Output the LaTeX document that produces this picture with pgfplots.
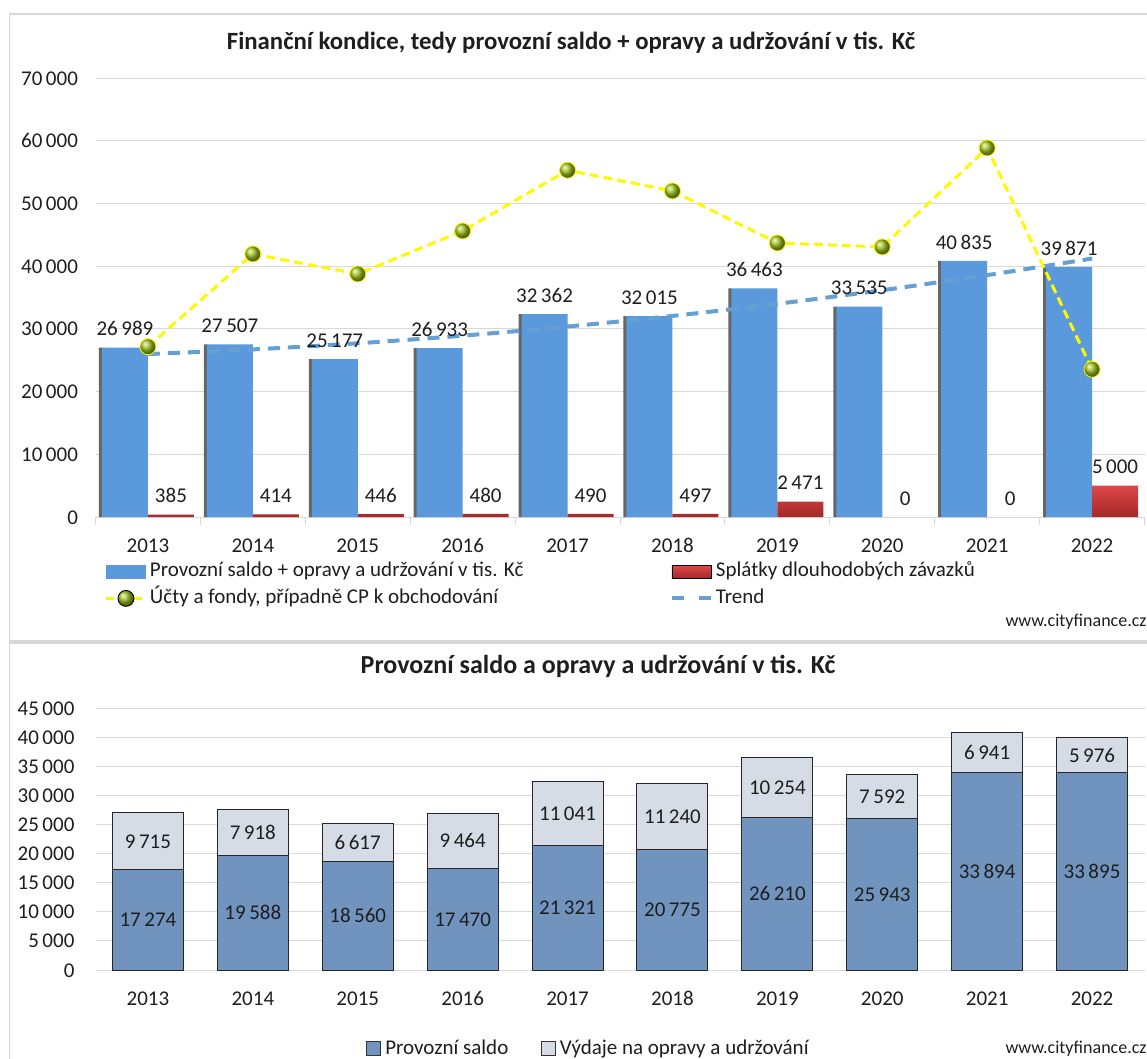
\documentclass[border=0pt]{standalone}
\usepackage{fontspec}
\setmainfont{Carlito}
\usepackage{pgfplots}
\pgfplotsset{compat=1.18}
\definecolor{blueb}{RGB}{91,153,221}
\definecolor{redtop}{RGB}{222,72,72}
\definecolor{redbot}{RGB}{165,40,40}
\definecolor{yell}{RGB}{255,248,0}
\definecolor{ballc}{RGB}{160,195,30}
\definecolor{trendc}{RGB}{100,160,212}
\definecolor{gridc}{RGB}{217,217,217}
\definecolor{framec}{RGB}{217,217,217}
\definecolor{botdark}{RGB}{112,148,190}
\definecolor{botlight}{RGB}{214,220,230}
\definecolor{txt}{RGB}{30,30,30}
\pgfplotsset{
  commonax/.style={
    anchor=south west, scale only axis, width=524.5pt,
    xmin=-0.5, xmax=9.5, xtick={0,...,9},
    xticklabels={2013,2014,2015,2016,2017,2018,2019,2020,2021,2022},
    ymin=0, scaled y ticks=false,
    /pgf/number format/assume math mode=true,
    /pgf/number format/1000 sep={\,},
    ymajorgrids, grid style={gridc, line width=0.5pt},
    axis x line*=bottom, axis y line*=left,
    x axis line style={gridc, line width=0.5pt, -},
    y axis line style={draw=none},
    major tick length=0pt,
    tick label style={font=\fontsize{10.5}{12}\selectfont, text=txt, text height=7pt, text depth=0pt},
    clip=false,
  },
  lab/.style={every node near coord/.append style={font=\fontsize{10.5}{12}\selectfont, text=txt, text height=7pt, text depth=0pt}},
}
\begin{document}
\begin{tikzpicture}[x=1pt,y=1pt]
\path[use as bounding box] (0,0) rectangle (573.5,-529.5);
\draw[framec, line width=0.6pt] (4.75,-7) rectangle (590,-320.5);
\draw[framec, line width=0.6pt] (4.75,-321.5) rectangle (590,-540);
\node[anchor=base, font=\bfseries\fontsize{12.4}{14}\selectfont, text=txt] at (285.5,-25) {Finanční kondice, tedy provozní saldo + opravy a udržování v tis. Kč};
\node[anchor=base, font=\bfseries\fontsize{13}{15}\selectfont, text=txt] at (299,-336.5) {Provozní saldo a opravy a udržování v tis. Kč};
\node[anchor=base east, inner sep=0pt, font=\fontsize{9}{10}\selectfont, text=txt] at (573.5,-313) {www.cityfinance.cz};
\node[anchor=base east, inner sep=0pt, font=\fontsize{9}{10}\selectfont, text=txt] at (573.5,-526.5) {www.cityfinance.cz};

% ---------------- top chart ----------------
\begin{axis}[commonax, at={(47.75pt,-258.5pt)}, height=219.5pt,
  ymax=70000, ytick={0,10000,...,70000},
  minor xtick={-0.5,0.5,...,9.5}, minor tick length=4pt, tick align=outside,
  minor tick style={gridc, line width=0.5pt},
  xticklabel style={yshift=-7pt}, yticklabel style={xshift=-5.25pt},
  legend style={at={(axis description cs:0.0086,-0.0945)}, anchor=north west,
    draw=none, fill=none, inner sep=0pt, legend columns=2,
    font=\fontsize{10.5}{12}\selectfont,
    nodes={inner sep=1.5pt, text height=7.5pt, text depth=2.5pt, text=txt},
    row sep=0.25pt},
  legend cell align=left]
\addplot[ybar, bar width=1.8pt, bar shift=-23.6pt, fill=black!60, draw=none, forget plot]
  coordinates {(0,26989) (1,27507) (2,25177) (3,26933) (4,32362) (5,32015) (6,36463) (7,33535) (8,40835) (9,39871)};
\addplot[ybar, bar width=23pt, bar shift=-11.5pt, fill=blueb, draw=none, forget plot]
  coordinates {(0,26989) (1,27507) (2,25177) (3,26933) (4,32362) (5,32015) (6,36463) (7,33535) (8,40835) (9,39871)};
\addplot[ybar, bar width=23pt, bar shift=11.5pt, top color=redtop, bottom color=redbot, draw=none, forget plot]
  coordinates {(0,385) (1,414) (2,446) (3,480) (4,490) (5,497) (6,2471) (9,5000)};
\addplot[trendc, line width=2pt, dash pattern=on 6pt off 4pt, smooth, forget plot]
  coordinates {(0,25981) (1,26721) (2,27699) (3,28915) (4,30370) (5,32062) (6,33993) (7,36162) (8,38569) (9,41214)};
\addplot[yell, line width=1.5pt, dash pattern=on 4.5pt off 2.5pt, mark=ball, mark size=4pt, mark options={solid, ball color=ballc, line width=0.4pt}, forget plot]
  coordinates {(0,27150) (1,41940) (2,38750) (3,45610) (4,55290) (5,51990) (6,43690) (7,43060) (8,58840) (9,23550)};
\addplot[ybar, bar width=23pt, bar shift=-11.5pt, draw=none, fill=none, forget plot, nodes near coords, lab,
  every node near coord/.append style={anchor=south, yshift=2.4pt, xshift=-11.5pt}]
  coordinates {(0,26989) (1,27507) (2,25177) (3,26933) (4,32362) (5,32015) (6,36463) (7,33535) (8,40835) (9,39871)};
\addplot[ybar, bar width=23pt, bar shift=11.5pt, draw=none, fill=none, forget plot, nodes near coords, lab,
  every node near coord/.append style={anchor=south, yshift=2.4pt, xshift=11.5pt}]
  coordinates {(0,385) (1,414) (2,446) (3,480) (4,490) (5,497) (6,2471) (7,0) (8,0) (9,5000)};
\addlegendimage{legend image code/.code={\fill[blueb] (0pt,-3.25pt) rectangle (19.5pt,3.25pt);}}
\addlegendentry{\makebox[258.5pt][l]{Provozní saldo + opravy a udržování v tis. Kč}}
\addlegendimage{legend image code/.code={\shade[top color=redtop, bottom color=redbot] (0pt,-3.25pt) rectangle (19.5pt,3.25pt);}}
\addlegendentry{Splátky dlouhodobých závazků}
\addlegendimage{legend image code/.code={\draw[yell, line width=1.5pt, dash pattern=on 4pt off 3pt] (0pt,0pt) -- (19.5pt,0pt); \shade[ball color=ballc] (9.75pt,0pt) circle (4pt);}}
\addlegendentry{Účty a fondy, případně CP k obchodování}
\addlegendimage{legend image code/.code={\draw[trendc, line width=2pt] (0pt,0pt) -- (6pt,0pt) (13.5pt,0pt) -- (19.5pt,0pt);}}
\addlegendentry{Trend}
\end{axis}

% ---------------- bottom chart ----------------
\begin{axis}[commonax, at={(47.75pt,-485pt)}, height=131pt,
  ymax=45000, ytick={0,5000,...,45000},
  ybar stacked, bar width=35.5pt,
  xticklabel style={yshift=-7pt}, yticklabel style={xshift=-7pt},
  legend style={at={(axis description cs:0.471,-0.3)}, anchor=center,
    draw=none, fill=none, inner sep=0pt, legend columns=2,
    font=\fontsize{10.5}{12}\selectfont,
    nodes={inner sep=2.2pt, text=txt},
    /tikz/every even column/.append style={column sep=14pt}}]
\addplot[fill=botdark, draw=black!85, line width=0.5pt,
  legend image code/.code={\draw[fill=botdark, draw=black!80, line width=0.4pt] (0pt,-3.5pt) rectangle (7pt,3.5pt);}]
  coordinates {(0,17274) (1,19588) (2,18560) (3,17470) (4,21321) (5,20775) (6,26210) (7,25943) (8,33894) (9,33895)};
\addlegendentry{Provozní saldo}
\addplot[fill=botlight, draw=black!85, line width=0.5pt,
  legend image code/.code={\draw[fill=botlight, draw=black!80, line width=0.4pt] (0pt,-3.5pt) rectangle (7pt,3.5pt);}]
  coordinates {(0,9715) (1,7918) (2,6617) (3,9464) (4,11041) (5,11240) (6,10254) (7,7592) (8,6941) (9,5976)};
\addlegendentry{Výdaje na opravy a udržování}
\end{axis}
\begin{axis}[at={(47.75pt,-485pt)}, anchor=south west, scale only axis, width=524.5pt, height=131pt,
  xmin=-0.5, xmax=9.5, ymin=0, ymax=45000, hide axis, clip=false,
  /pgf/number format/assume math mode=true, /pgf/number format/1000 sep={\,}]
\addplot[draw=none, nodes near coords, point meta=explicit, lab,
  every node near coord/.append style={anchor=center}]
  coordinates {(0,8637) [17274] (1,9794) [19588] (2,9280) [18560] (3,8735) [17470] (4,10660.5) [21321]
    (5,10387.5) [20775] (6,13105) [26210] (7,12971.5) [25943] (8,16947) [33894] (9,16947.5) [33895]};
\addplot[draw=none, nodes near coords, point meta=explicit, lab,
  every node near coord/.append style={anchor=center}]
  coordinates {(0,22131.5) [9715] (1,23547) [7918] (2,21868.5) [6617] (3,22202) [9464] (4,26841.5) [11041]
    (5,26395) [11240] (6,31337) [10254] (7,29739) [7592] (8,37364.5) [6941] (9,36883) [5976]};
\end{axis}
\end{tikzpicture}
\end{document}
